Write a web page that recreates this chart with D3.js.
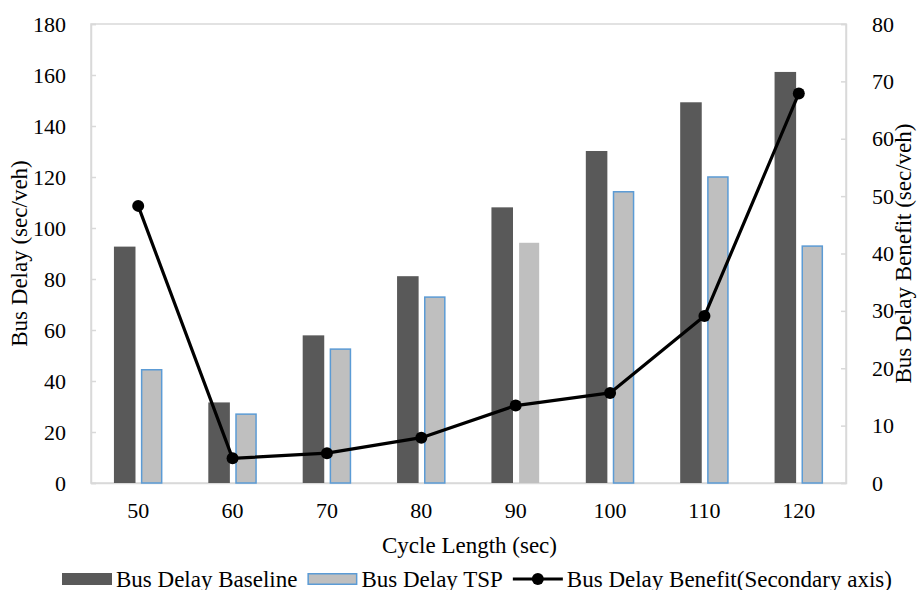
<!DOCTYPE html>
<html>
<head>
<meta charset="utf-8">
<script src="https://cdn.jsdelivr.net/npm/d3@7"></script>
<style>
  html, body { margin: 0; padding: 0; background: #fff; }
  svg { display: block; font-family: "Liberation Serif", "Times New Roman", serif; }
</style>
</head>
<body>
<svg id="chart" width="917" height="590"></svg>
<script>
// Cycle lengths (sec)
const cycleLengths = [50, 60, 70, 80, 90, 100, 110, 120];
// Bus delay without priority (sec/veh)
const baselineDelay = [92.7, 31.6, 57.9, 81.1, 108.1, 130.2, 149.3, 161.2];
// Bus delay with transit signal priority (sec/veh)
const tspDelay = [44.7, 27.3, 52.8, 73.2, 94.5, 114.5, 120.3, 93.2];
// Delay benefit, plotted on the secondary axis (sec/veh)
const delayBenefit = [48.3, 4.3, 5.2, 7.9, 13.5, 15.7, 29.1, 67.9];
// Axis ticks
const leftTicks = [0, 20, 40, 60, 80, 100, 120, 140, 160, 180];
const rightTicks = [0, 10, 20, 30, 40, 50, 60, 70, 80];
const seriesNames = ["Bus Delay Baseline", "Bus Delay TSP", "Bus Delay Benefit(Secondary axis)"];

const svg = d3.select("#chart");
const margin = { left: 91, right: 71, top: 24, bottom: 107 };
const W = 917, H = 590;
const x0 = margin.left, x1 = W - margin.right;
const y0 = H - margin.bottom, y1 = margin.top;

const tickFont = 22, titleFont = 23;
const colBase = "#595959", colTsp = "#BFBFBF", colTspEdge = "#5B9BD5", colAxis = "#D9D9D9";
// TSP bar drawn without the blue outline
const plainTsp = new Set([90]);

const x = d3.scaleBand().domain(cycleLengths).range([x0, x1]).padding(0);
const sub = d3.scaleBand().domain([0, 1]).range([-24.25, 24.25]).paddingInner(0.2);
const yL = d3.scaleLinear().domain([0, 180]).range([y0, y1]);
const yR = d3.scaleLinear().domain([0, 80]).range([y0, y1]);

// Plot frame
svg.append("rect")
  .attr("x", x0).attr("y", y1).attr("width", x1 - x0).attr("height", y0 - y1)
  .attr("fill", "none").attr("stroke", colAxis).attr("stroke-width", 1.5);

// Left axis
const axL = svg.append("g").attr("transform", `translate(${x0},0)`)
  .call(d3.axisLeft(yL).tickValues(leftTicks).tickSize(-5).tickPadding(25));
axL.select(".domain").attr("stroke", colAxis).attr("stroke-width", 1.5);
axL.selectAll(".tick line").attr("stroke", colAxis).attr("stroke-width", 1.5);
axL.selectAll("text").attr("font-family", "Liberation Serif").attr("font-size", tickFont).attr("fill", "#000");

// Right axis
const axR = svg.append("g").attr("transform", `translate(${x1},0)`)
  .call(d3.axisRight(yR).tickValues(rightTicks).tickSize(-5).tickPadding(26));
axR.select(".domain").attr("stroke", colAxis).attr("stroke-width", 1.5);
axR.selectAll(".tick line").attr("stroke", colAxis).attr("stroke-width", 1.5);
axR.selectAll("text").attr("font-family", "Liberation Serif").attr("font-size", tickFont).attr("fill", "#000");

// Bottom axis
const axB = svg.append("g").attr("transform", `translate(0,${y0})`)
  .call(d3.axisBottom(x).tickSize(0).tickPadding(19));
axB.select(".domain").attr("stroke", colAxis).attr("stroke-width", 1.5);
axB.selectAll("text").attr("font-family", "Liberation Serif").attr("font-size", tickFont).attr("fill", "#000");

// Bars
const cx = d => x(d) + x.bandwidth() / 2;
svg.append("g").selectAll("rect").data(cycleLengths).join("rect")
  .attr("x", d => cx(d) + sub(0))
  .attr("y", (d, i) => yL(baselineDelay[i]))
  .attr("width", sub.bandwidth())
  .attr("height", (d, i) => yL(0) - yL(baselineDelay[i]))
  .attr("fill", colBase);

svg.append("g").selectAll("rect").data(cycleLengths).join("rect")
  .attr("x", d => cx(d) + sub(1) + 0.75)
  .attr("y", (d, i) => yL(tspDelay[i]) + 0.75)
  .attr("width", sub.bandwidth() - 1.5)
  .attr("height", (d, i) => yL(0) - yL(tspDelay[i]) - 0.75)
  .attr("fill", colTsp)
  .attr("stroke", d => plainTsp.has(d) ? "none" : colTspEdge)
  .attr("stroke-width", 1.5);

// Benefit line on the secondary axis
const line = d3.line().x((d, i) => cx(cycleLengths[i])).y(d => yR(d));
svg.append("path").datum(delayBenefit)
  .attr("d", line).attr("fill", "none").attr("stroke", "#000")
  .attr("stroke-width", 3.2).attr("stroke-linejoin", "round");
svg.append("g").selectAll("circle").data(delayBenefit).join("circle")
  .attr("cx", (d, i) => cx(cycleLengths[i])).attr("cy", d => yR(d))
  .attr("r", 6).attr("fill", "#000");

// Axis titles
svg.append("text").attr("transform", `translate(27,${(y0 + y1) / 2}) rotate(-90)`)
  .attr("text-anchor", "middle").attr("font-size", titleFont).text("Bus Delay (sec/veh)");
svg.append("text").attr("transform", `translate(911,${(y0 + y1) / 2}) rotate(-90)`)
  .attr("text-anchor", "middle").attr("font-size", titleFont).text("Bus Delay Benefit (sec/veh)");
svg.append("text").attr("x", (x0 + x1) / 2 + 1).attr("y", 553)
  .attr("text-anchor", "middle").attr("font-size", titleFont).text("Cycle Length (sec)");

// Legend
const leg = svg.append("g");
const legY = 579;
let lx = 62;
seriesNames.forEach((name, i) => {
  if (i === 0) {
    leg.append("rect").attr("x", lx).attr("y", legY - 6).attr("width", 50).attr("height", 12).attr("fill", colBase);
  } else if (i === 1) {
    leg.append("rect").attr("x", lx + 0.75).attr("y", legY - 5.25).attr("width", 48.5).attr("height", 10.5)
      .attr("fill", colTsp).attr("stroke", colTspEdge).attr("stroke-width", 1.5);
  } else {
    leg.append("line").attr("x1", lx).attr("x2", lx + 50).attr("y1", legY).attr("y2", legY)
      .attr("stroke", "#000").attr("stroke-width", 3.2);
    leg.append("circle").attr("cx", lx + 25).attr("cy", legY).attr("r", 6).attr("fill", "#000");
  }
  const t = leg.append("text").attr("x", lx + 54).attr("y", legY + 7.5)
    .attr("font-size", titleFont).text(name);
  lx += 54 + t.node().getComputedTextLength() + 10;
});
</script>
</body>
</html>
